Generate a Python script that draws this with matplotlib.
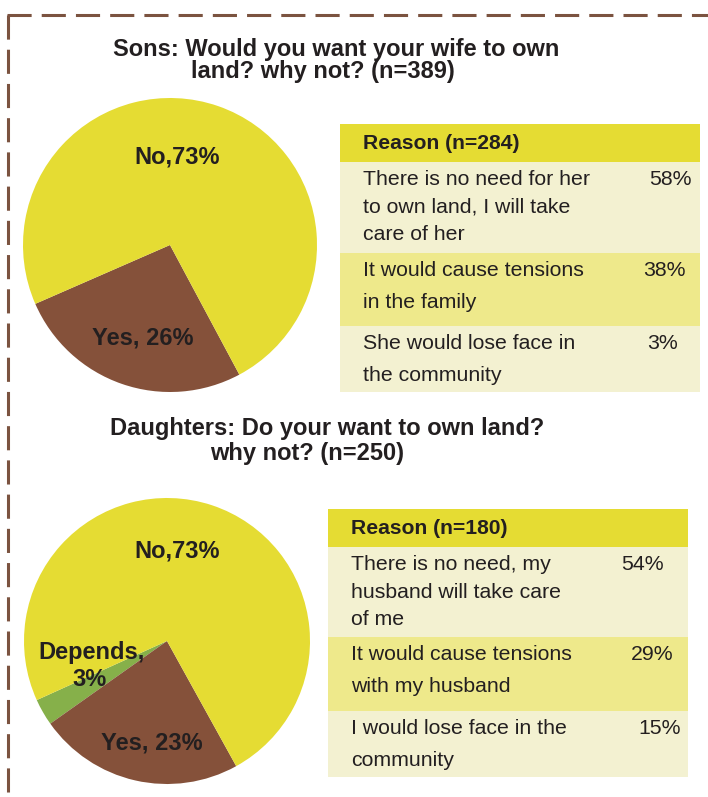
import matplotlib.pyplot as plt

# pie data
sons_labels = ["Yes", "No"]
sons_values = [26, 73]
daughters_labels = ["Depends", "Yes", "No"]
daughters_values = [3, 23, 73]

# titles
sons_title = "Sons: Would you want your wife to own\nland? why not? (n=389)    "
daughters_title = "Daughters: Do your want to own land?\nwhy not? (n=250)      "

# reason tables
sons_header = "Reason (n=284)"
sons_reasons = ["There is no need for her\nto own land, I will take\ncare of her",
                "It would cause tensions\nin the family",
                "She would lose face in\nthe community"]
sons_pct = ["58%", "38%", "3%"]

daughters_header = "Reason (n=180)"
daughters_reasons = ["There is no need, my\nhusband will take care\nof me",
                     "It would cause tensions\nwith my husband",
                     "I would lose face in the\ncommunity"]
daughters_pct = ["54%", "29%", "15%"]

W, H = 708, 797
YELLOW = "#E5DC33"
BROWN = "#85513A"
GREEN = "#86B04A"
ROW_LIGHT = "#F3F1D1"
ROW_MID = "#EEE98B"
BORDER = "#7B5340"
INK = "#231F20"

plt.rcParams["font.family"] = ["Liberation Sans", "DejaVu Sans"]

fig = plt.figure(figsize=(W / 100, H / 100), dpi=100)
ax = fig.add_axes([0, 0, 1, 1])


def Y(y):
    # pixel row (top origin) -> data y
    return H - y


# dashed frame on top and left
lw = 2.2
ax.plot([7, W], [Y(15), Y(15)], color=BORDER, lw=lw, ls=(0, (7.9, 3.3)),
        solid_capstyle="butt", dash_capstyle="butt")
ax.plot([8, 8], [Y(15), Y(H + 5)], color=BORDER, lw=lw, ls=(0, (7.9, 3.3)),
        solid_capstyle="butt", dash_capstyle="butt")

# titles (two lines, tight spacing as in the original)
title_kw = dict(fontsize=17, fontweight="bold", color=INK, ha="center",
                va="top", multialignment="center", linespacing=0.92)
ax.text(336, Y(38), sons_title, **title_kw)
ax.text(327, Y(417), daughters_title, linespacing=1.1,
        **{k: v for k, v in title_kw.items() if k != "linespacing"})

# pies
ax.pie(sons_values, colors=[BROWN, YELLOW], startangle=203.6,
       center=(170, Y(245)), radius=147, frame=True,
       wedgeprops=dict(linewidth=0))
ax.pie(daughters_values, colors=[GREEN, BROWN, YELLOW], startangle=204.4,
       center=(167, Y(641)), radius=143, frame=True,
       wedgeprops=dict(linewidth=0))

lab_kw = dict(fontsize=17, fontweight="bold", color=INK, ha="center", va="center")
ax.text(177, Y(157), "No,73%", **lab_kw)
ax.text(143, Y(338), "Yes, 26%", **lab_kw)
ax.text(177, Y(551), "No,73%", **lab_kw)
ax.text(152, Y(743), "Yes, 23%", **lab_kw)
ax.text(92, Y(653), "Depends,", **lab_kw)
ax.text(90, Y(679), "3%", **lab_kw)


def draw_table(x0, x1, edges, header, reasons, pcts, pct_x):
    row_colors = [YELLOW, ROW_LIGHT, ROW_MID, ROW_LIGHT]
    for i in range(4):
        top, bot = edges[i], edges[i + 1]
        ax.add_patch(plt.Rectangle((x0, Y(bot)), x1 - x0, bot - top,
                                   facecolor=row_colors[i], edgecolor="none"))
    tx = x0 + 23
    ax.text(tx, Y(edges[0] + 25), header, fontsize=15.2, fontweight="bold",
            color=INK, ha="left", va="baseline")
    for i, (reason, pct) in enumerate(zip(reasons, pcts)):
        top = edges[i + 1]
        lines = reason.split("\n")
        step = 27.5 if len(lines) > 2 else 31.5
        base = top + 23
        for k, line in enumerate(lines):
            ax.text(tx, Y(base + k * step), line, fontsize=15.3, color=INK,
                    ha="left", va="baseline")
        ax.text(pct_x[i], Y(base), pct, fontsize=15.3, color=INK,
                ha="center", va="baseline")


draw_table(340, 700, [124, 162, 253, 326, 392], sons_header, sons_reasons,
           sons_pct, [670, 664, 662])
draw_table(328, 688, [509, 547, 637, 711, 777], daughters_header,
           daughters_reasons, daughters_pct, [642, 652, 660])

ax.set_xlim(0, W)
ax.set_ylim(0, H)
ax.set_aspect("auto")
ax.axis("off")

fig.savefig("out.png", dpi=100, facecolor="white")
